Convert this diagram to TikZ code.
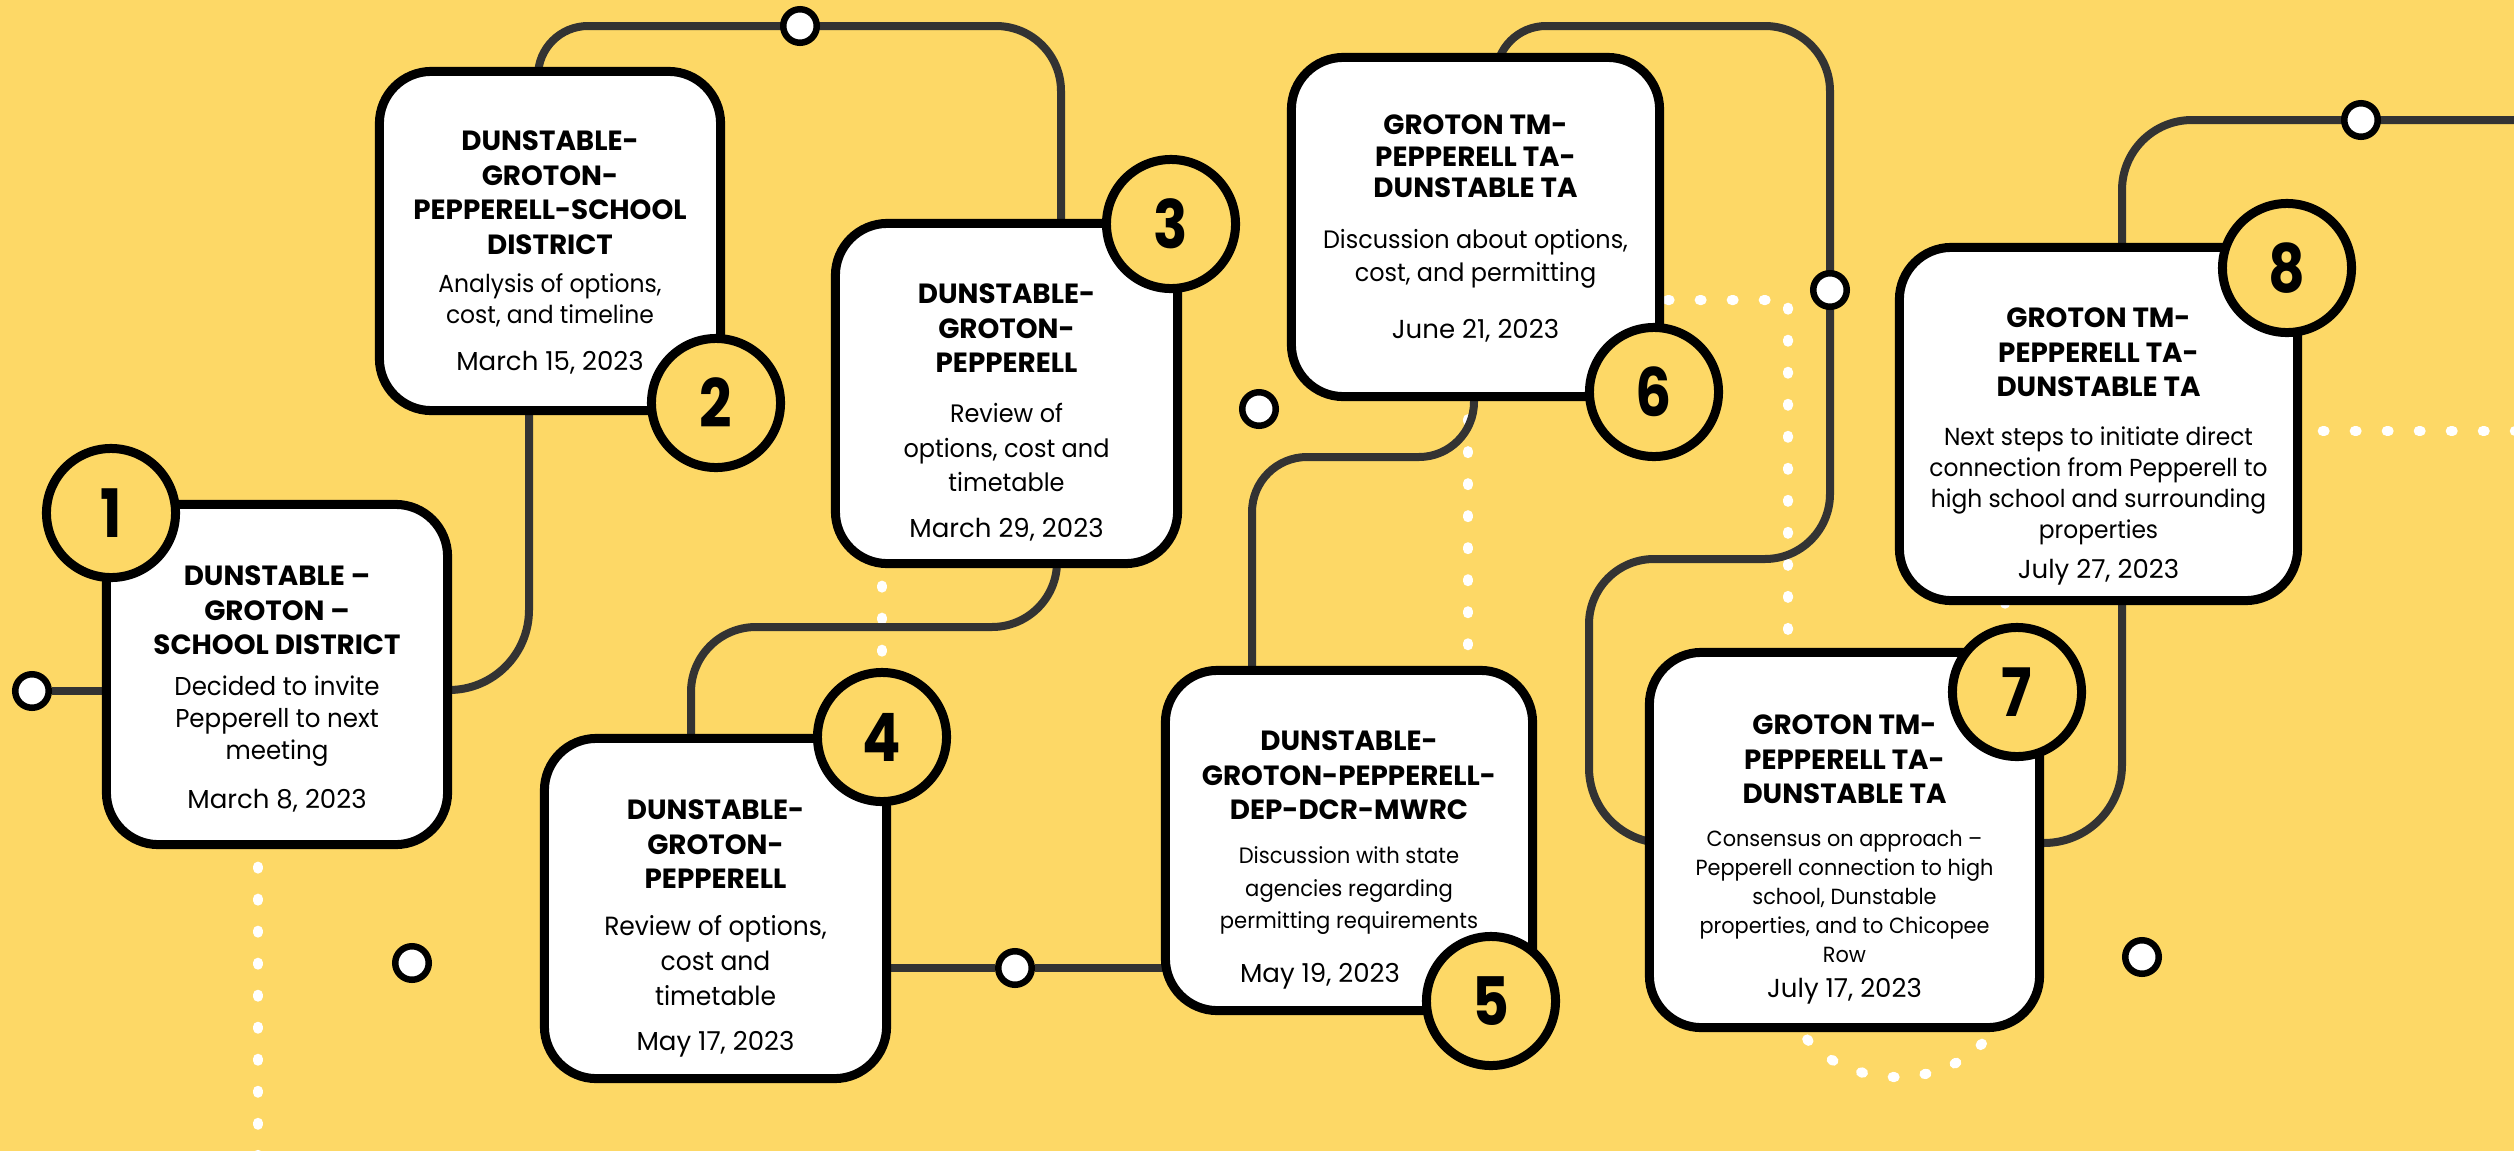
\documentclass[tikz,border=0pt]{standalone}
\usepackage{fontspec}
\setmainfont{Poppins}
\newfontfamily\titlefont{Poppins}
\newfontfamily\bodyfont[FakeStretch=0.95]{Poppins}
\newfontfamily\datefont{Poppins}
\newfontfamily\numfont[FakeStretch=0.85]{Poppins}
\usetikzlibrary{calc}
\pgfdeclarelayer{bg}\pgfdeclarelayer{lines}
\pgfsetlayers{bg,lines,main}
\definecolor{bgy}{RGB}{253,216,102}
\definecolor{connc}{RGB}{51,51,51}
\newcommand\fl{\rule{0pt}{1em}}
\begin{document}
\begin{tikzpicture}[x=0.01cm,y=-0.01cm,
 box/.style={draw=black,line width=0.09cm,fill=white,rounded corners=0.52cm,inner sep=0pt},
 num/.style={circle,draw=black,line width=0.09cm,fill=bgy,minimum size=1.29cm,inner sep=0pt,font=\numfont\bfseries\fontsize{19}{19}\selectfont},
 dotc/.style={circle,draw=black,line width=0.065cm,fill=white,minimum size=0.335cm,inner sep=0pt},
 conn/.style={draw=connc,line width=0.08cm},
 wdots/.style={draw=white,line width=0.1cm,line cap=round,dash pattern=on 0.02cm off 0.3cm},
 ttl/.style={font=\titlefont\bfseries\fontsize{7.9}{9.8}\selectfont,align=center,inner sep=0pt,anchor=north},
 bdy/.style={align=center,inner sep=0pt,anchor=north},
 dte/.style={font=\datefont\fontsize{7.4}{9}\selectfont,inner sep=0pt,anchor=base}]
\begin{pgfonlayer}{bg}
\fill[bgy] (0,0) rectangle (2514,1151);
\end{pgfonlayer}
\useasboundingbox (0,0) rectangle (2514,1151);
% boxes
\node[box,minimum width=3.41cm,minimum height=3.40cm] (b1) at (277,674.5) {};
\node[box,minimum width=3.41cm,minimum height=3.39cm] (b2) at (550,241) {};
\node[box,minimum width=3.42cm,minimum height=3.40cm] (b3) at (1006.5,393.5) {};
\node[box,minimum width=3.42cm,minimum height=3.40cm] (b4) at (715.5,908.5) {};
\node[box,minimum width=3.67cm,minimum height=3.40cm] (b5) at (1349,840.5) {};
\node[box,minimum width=3.68cm,minimum height=3.39cm] (b6) at (1475.5,227) {};
\node[box,minimum width=3.90cm,minimum height=3.75cm] (b7) at (1844.5,840) {};
\node[box,minimum width=3.98cm,minimum height=3.53cm] (b8) at (2098.5,424) {};
% number circles
\node[num] (c1) at (111,513) {1};
\node[num] (c2) at (716,403) {2};
\node[num] (c3) at (1171,224) {3};
\node[num] (c4) at (882,737) {4};
\node[num] (c5) at (1491,1001) {5};
\node[num] (c6) at (1654,392) {6};
\node[num] (c7) at (2017,692) {7};
\node[num] (c8) at (2287,268) {8};
% small circles
\node[dotc] (d0) at (32,691) {};
\node[dotc] (d1) at (800,26) {};
\node[dotc] (d2) at (1259,409) {};
\node[dotc] (d3) at (412,963) {};
\node[dotc] (d4) at (1015,968) {};
\node[dotc] (d5) at (1830,290) {};
\node[dotc] (d6) at (2361,120) {};
\node[dotc] (d7) at (2142,957) {};
% junction coordinates
\coordinate (k1) at (529,690);
\coordinate (k2a) at (538,26);
\coordinate (k2b) at (1061,26);
\coordinate (k3a) at (1057,627);
\coordinate (k3b) at (691,627);
\coordinate (k5a) at (1252,457);
\coordinate (k5b) at (1474,457);
\coordinate (k6a) at (1496,26);
\coordinate (k6b) at (1830,26);
\coordinate (k6c) at (1830,559);
\coordinate (k6d) at (1589,559);
\coordinate (k6e) at (1589,843);
\coordinate (k7a) at (2122,120);
\coordinate (k7b) at (2530,120);
\coordinate (k8) at (2122,843);
\coordinate (w1) at (258,1170);
\coordinate (w3) at (1468,0);
\coordinate (w4a) at (1788,300);
\coordinate (w4b) at (1788,990);
\coordinate (w4d) at (2005,600);
\coordinate (w5) at (2530,431);
\begin{pgfonlayer}{lines}
% white dotted paths
\draw[wdots] (w1 |- b1) -- (w1);
\draw[wdots] (c4 |- b3) -- (c4);
\draw[wdots] (w3 |- b6) -- (w3 |- b5);
\draw[wdots] (b6 |- w4a) -- (w4a) -- (w4b) arc[start angle=180,end angle=360,x radius=1.085cm,y radius=0.87cm] -- (w4d |- b8);
\draw[wdots] (b8 |- w5) -- (w5);
% connectors
\draw[conn] (d0) -- (d0 -| b1);
\draw[conn,rounded corners=0.8cm] (b1 |- k1) -- (k1) -- (k1 |- b2);
\draw[conn,rounded corners=0.5cm] (k2a |- b2) -- (k2a) [rounded corners=0.65cm] -- (k2b) -- (k2b |- b3);
\draw[conn,rounded corners=0.65cm] (k3a |- b3) -- (k3a) -- (k3b) -- (k3b |- b4);
\draw[conn] (b4 |- d4) -- (d4) -- (d4 -| b5);
\draw[conn,rounded corners=0.55cm] (k5a |- b5) -- (k5a) -- (k5b) -- (k5b |- b6);
\draw[conn,rounded corners=0.5cm] (k6a |- b6) -- (k6a) [rounded corners=0.65cm] -- (k6b) -- (k6c) -- (k6d) [rounded corners=0.75cm] -- (k6e) -- (k6e -| b7);
\draw[conn,rounded corners=0.7cm] (k7a |- b8) -- (k7a) -- (k7b);
\draw[conn,rounded corners=0.78cm] (k8 |- b8) -- (k8) -- (k8 -| b7);
\end{pgfonlayer}
% texts
\node[ttl] (t1) at (277,557.2) {\fl DUNSTABLE –\\GROTON –\\SCHOOL DISTRICT};
\node[bdy,font=\bodyfont\fontsize{7.34}{9.02}\selectfont] (s1) at (277,669.2) {\fl Decided to invite\\Pepperell to next\\meeting};
\node[dte] (m1) at (277,808) {March 8, 2023};
\node[ttl] (t2) at (550,122.2) {\fl DUNSTABLE-\\GROTON-\\PEPPERELL-SCHOOL\\DISTRICT};
\node[bdy,font=\bodyfont\fontsize{7.02}{8.82}\selectfont] (s2) at (550,267.3) {\fl Analysis of options,\\cost, and timeline};
\node[dte] (m2) at (550,370) {March 15, 2023};
\node[ttl] (t3) at (1006.5,275.2) {\fl DUNSTABLE-\\GROTON-\\PEPPERELL};
\node[bdy,font=\bodyfont\fontsize{7.18}{9.82}\selectfont] (s3) at (1006.5,396.8) {\fl Review of\\options, cost and\\timetable};
\node[dte] (m3) at (1006.5,537) {March 29, 2023};
\node[ttl] (t4) at (715.5,791.2) {\fl DUNSTABLE-\\GROTON-\\PEPPERELL};
\node[bdy,font=\bodyfont\fontsize{7.48}{9.96}\selectfont] (s4) at (715.5,908.7) {\fl Review of options,\\cost and\\timetable};
\node[dte] (m4) at (715.5,1050) {May 17, 2023};
\node[ttl] (t5) at (1349,722.2) {\fl DUNSTABLE-\\GROTON-PEPPERELL-\\DEP-DCR-MWRC};
\node[bdy,font=\bodyfont\fontsize{6.32}{9.25}\selectfont] (s5) at (1349,840.8) {\fl Discussion with state\\agencies regarding\\permitting requirements};
\node[dte] (m5) at (1320,982) {May 19, 2023};
\node[ttl,font=\titlefont\bfseries\fontsize{7.9}{9.0}\selectfont] (t6) at (1475.5,106.2) {\fl GROTON TM-\\PEPPERELL TA-\\DUNSTABLE TA};
\node[bdy,font=\bodyfont\fontsize{7.16}{9.39}\selectfont] (s6) at (1475.5,222.8) {\fl Discussion about options,\\cost, and permitting};
\node[dte] (m6) at (1475.5,338) {June 21, 2023};
\node[ttl] (t7) at (1844.5,706.2) {\fl GROTON TM-\\PEPPERELL TA-\\DUNSTABLE TA};
\node[bdy,font=\bodyfont\fontsize{6.23}{8.25}\selectfont] (s7) at (1844.5,824.1) {\fl Consensus on approach –\\Pepperell connection to high\\school, Dunstable\\properties, and to Chicopee\\Row};
\node[dte] (m7) at (1844.5,997) {July 17, 2023};
\node[ttl] (t8) at (2098.5,299.2) {\fl GROTON TM-\\PEPPERELL TA-\\DUNSTABLE TA};
\node[bdy,font=\bodyfont\fontsize{6.99}{8.82}\selectfont] (s8) at (2098.5,420.4) {\fl Next steps to initiate direct\\connection from Pepperell to\\high school and surrounding\\properties};
\node[dte] (m8) at (2098.5,578) {July 27, 2023};
\end{tikzpicture}
\end{document}
